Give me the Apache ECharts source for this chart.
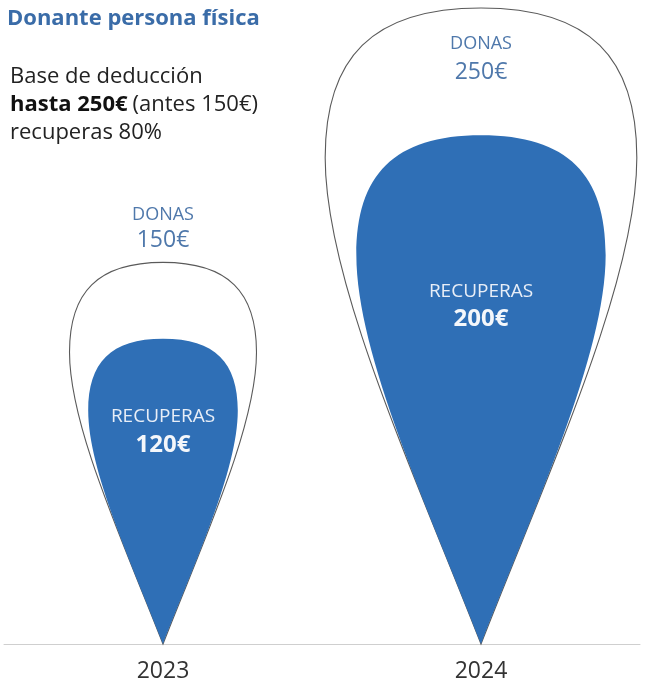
<!DOCTYPE html>
<html>
<head>
<meta charset="utf-8">
<script src="https://cdn.jsdelivr.net/npm/echarts@6/dist/echarts.min.js"></script>
<style>
html,body{margin:0;padding:0;background:#fff;}
#chart{width:653px;height:688px;}
</style>
</head>
<body>
<div id="chart"></div>
<script>
// ---- data ----
const years = ['2023', '2024'];
const donas = [150, 250];
const recuperas = [120, 200];
const donasLabel = 'DONAS';
const recuperasLabel = 'RECUPERAS';
const titleText = 'Donante persona física';
const noteLine1 = 'Base de deducción';
const noteLine2Bold = 'hasta 250€';
const noteLine2 = '(antes 150€)';
const noteLine3 = 'recuperas 80%';

// ---- style ----
const FONT = 'Open Sans';
const BLUE = '#2f6fb6';
const ASPECT = 0.49;
const DROP = 'M50,0 C85,0 100,16 100,48 C100,88 71,150 50,204 C29,150 0,88 0,48 C0,16 15,0 50,0 Z';
// label offsets (px from drop top) for each year
const donasOffsets = [[-48, -22], [36, 64]];
const recupOffsets = [[78, 106], [156, 184]];

function makeRender(kind) {
  return function (params, api) {
    const i = params.dataIndex;
    const v = api.value(1);
    const base = api.coord([api.value(0), 0]);
    const top = api.coord([api.value(0), v]);
    const h = base[1] - top[1];
    const w = h * ASPECT;
    const cx = base[0];
    const isOuter = kind === 'outer';
    const offs = isOuter ? donasOffsets[i] : recupOffsets[i];
    return {
      type: 'group',
      children: [
        {
          type: 'path',
          shape: { pathData: DROP, x: cx - w / 2, y: top[1], width: w, height: h, layout: 'cover' },
          style: isOuter ? { fill: '#fff', stroke: '#5a5a5a', lineWidth: 1.1 } : { fill: BLUE }
        },
        {
          type: 'text', x: cx, y: top[1] + offs[0],
          style: {
            text: isOuter ? donasLabel : recuperasLabel,
            fill: isOuter ? '#4f78ab' : '#e8eef7',
            fontFamily: FONT, fontSize: isOuter ? 18 : 19, align: 'center', verticalAlign: 'middle'
          }
        },
        {
          type: 'text', x: cx, y: top[1] + offs[1],
          style: {
            text: v + '€',
            fill: isOuter ? '#4f78ab' : '#f4f7fb',
            fontFamily: FONT, fontSize: isOuter ? 23 : 24, fontWeight: isOuter ? 'normal' : 'bold',
            align: 'center', verticalAlign: 'middle'
          }
        }
      ]
    };
  };
}

const chart = echarts.init(document.getElementById('chart'), null, { renderer: 'canvas' });
chart.setOption({
  animation: false,
  backgroundColor: '#fff',
  title: [
    {
      text: titleText, left: 2, top: 3,
      textStyle: { fontFamily: FONT, fontWeight: 'bold', fontSize: 22, color: '#3a6ca8' }
    },
    {
      text: '{n|' + noteLine1 + '}\n{b|' + noteLine2Bold + '} {n|' + noteLine2 + '}\n{n|' + noteLine3 + '}',
      left: 5, top: 58,
      textStyle: {
        fontWeight: 'normal',
        rich: {
          n: { fontFamily: FONT, fontSize: 22, color: '#222', fontWeight: 'normal', lineHeight: 28 },
          b: { fontFamily: FONT, fontSize: 22, color: '#111', fontWeight: 'bold', lineHeight: 28 }
        }
      }
    }
  ],
  grid: { left: 4, right: 13, top: 8, bottom: 44 },
  xAxis: {
    type: 'category', data: years,
    axisLine: { lineStyle: { color: '#cfcfcf', width: 1 } },
    axisTick: { show: false },
    axisLabel: { fontFamily: FONT, fontSize: 23, color: '#333', margin: 16 }
  },
  yAxis: { type: 'value', min: 0, max: 250, show: false },
  series: [
    {
      type: 'custom', name: 'Donas', z: 2,
      data: years.map((y, i) => [i, donas[i]]),
      encode: { x: 0, y: 1 },
      renderItem: makeRender('outer')
    },
    {
      type: 'custom', name: 'Recuperas', z: 3,
      data: years.map((y, i) => [i, recuperas[i]]),
      encode: { x: 0, y: 1 },
      renderItem: makeRender('inner')
    }
  ]
});
</script>
</body>
</html>
